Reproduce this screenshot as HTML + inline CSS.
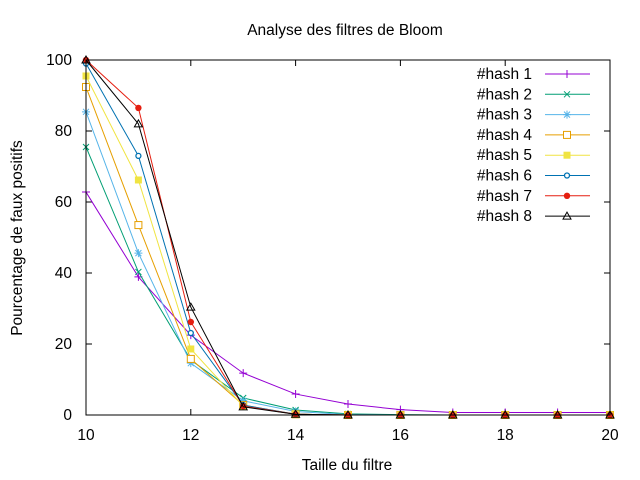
<!DOCTYPE html>
<html><head><meta charset="utf-8"><style>
body{margin:0;background:#fff}
svg{display:block;font-family:"Liberation Sans",sans-serif;font-size:15.5px}
</style></head><body>
<svg id="c" width="640" height="480">
<text x="345" y="35" text-anchor="middle">Analyse des filtres de Bloom</text>
<text x="347" y="470" text-anchor="middle">Taille du filtre</text>
<text transform="translate(22,238) rotate(-90)" text-anchor="middle">Pourcentage de faux positifs</text>
<g id="axes"></g><g id="series"></g><g id="legend"></g>
<rect x="86" y="60" width="524" height="355" fill="none" stroke="#000"/>
</svg>
<script>
const xs=[10,11,12,13,14,15,16,17,18,19,20];
const xTicks=[10,12,14,16,18,20];
const yTicks=[0,20,40,60,80,100];
const names=["#hash 1","#hash 2","#hash 3","#hash 4","#hash 5","#hash 6","#hash 7","#hash 8"];
const colors=["#9400d3","#009e73","#56b4e9","#e69f00","#f0e442","#0072b2","#e51e10","#000000"];
const h1=[62.8,38.9,22.5,11.8,5.9,3.1,1.5,0.7,0.7,0.7,0.7];
const h2=[75.5,40.3,15.5,4.8,1.4,0.3,0.1,0,0,0,0];
const h3=[85.4,45.6,14.6,4.0,1.0,0.1,0,0,0,0,0];
const h4=[92.4,53.5,15.8,2.8,0.2,0,0,0,0,0,0];
const h5=[95.5,66.2,18.6,2.5,0.2,0,0,0,0,0,0];
const h6=[99,73,23.1,2.8,0.2,0,0,0,0,0,0];
const h7=[100,86.5,26.2,2.5,0.2,0,0,0,0,0,0];
const h8=[100,82,30.4,2.3,0.2,0,0,0,0,0,0];
const series=[h1,h2,h3,h4,h5,h6,h7,h8];
const NS="http://www.w3.org/2000/svg";
const X=v=>86+(v-10)*52.4, Y=v=>415-v*3.55;
function mk(t,a,p){const e=document.createElementNS(NS,t);for(const k in a)e.setAttribute(k,a[k]);p.appendChild(e);return e;}
const ax=document.getElementById('axes');
xTicks.forEach(t=>{const x=X(t);
 const l=mk('path',{d:`M${x},415v-6M${x},60v6`,stroke:'#000'},ax);
 
 
 const tx=mk('text',{x:x,y:440,'text-anchor':'middle'},ax);tx.textContent=t;
 
 });
yTicks.forEach(t=>{const y=Y(t);
 const l=mk('path',{d:`M86,${y}h6M610,${y}h-6`,stroke:'#000'},ax);
 
 
 const tx=mk('text',{x:72,y:y+5,'text-anchor':'end'},ax);tx.textContent=t;
 
 });
function marker(i,x,y,p){const c=colors[i];let e;
 if(i==0)e=mk('path',{d:`M${x-4},${y}h8M${x},${y-4}v8`,stroke:c,fill:'none'},p);
 else if(i==1)e=mk('path',{d:`M${x-3},${y-3}l6,6M${x-3},${y+3}l6,-6`,stroke:c,fill:'none'},p);
 else if(i==2)e=mk('path',{d:`M${x-4},${y}h8M${x},${y-4}v8M${x-3},${y-3}l6,6M${x-3},${y+3}l6,-6`,stroke:c,fill:'none'},p);
 else if(i==3)e=mk('rect',{x:x-3.5,y:y-3.5,width:7,height:7,stroke:c,fill:'#fff'},p);
 else if(i==4)e=mk('rect',{x:x-3.5,y:y-3.5,width:7,height:7,fill:c},p);
 else if(i==5)e=mk('circle',{cx:x,cy:y,r:2.5,stroke:c,fill:'#fff','stroke-width':1.3},p);
 else if(i==6)e=mk('circle',{cx:x,cy:y,r:3.2,fill:c},p);
 else e=mk('path',{d:`M${x-4},${y+3}L${x},${y-4}L${x+4},${y+3}Z`,stroke:c,fill:'none'},p);
 
 }
const sg=document.getElementById('series'), lg=document.getElementById('legend');
series.forEach((s,i)=>{
 const g=mk('g',{},sg);
 
 
 const pl=mk('polyline',{points:s.map((v,j)=>X(xs[j])+','+Y(v)).join(' '),fill:'none',stroke:colors[i]},g);
 
 
 s.forEach((v,j)=>marker(i,X(xs[j]),Y(v),g));
 const y=74+i*20.3;
 const le=mk('g',{},lg);
 
 
 const t=mk('text',{x:532,y:y+5,'text-anchor':'end'},le);t.textContent=names[i];
 mk('path',{d:`M545,${y}h45`,stroke:colors[i]},le);
 marker(i,567,y,le);
});
</script>
</body></html>
